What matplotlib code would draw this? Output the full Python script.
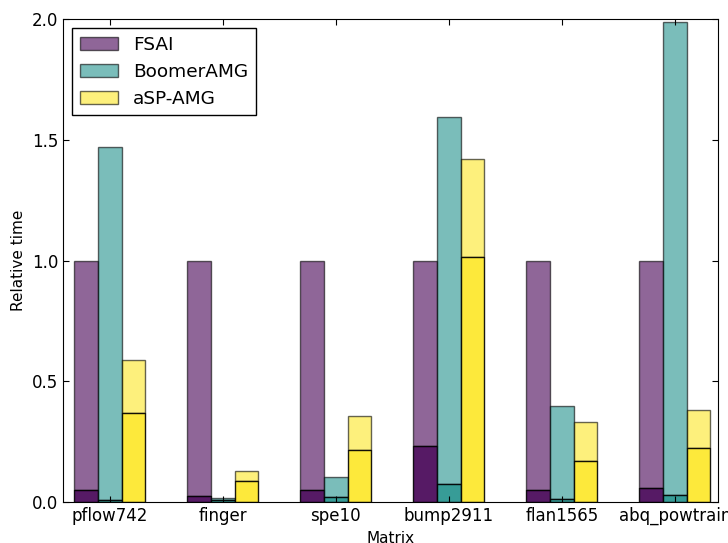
import matplotlib
matplotlib.use("Agg")
import matplotlib.pyplot as plt
import numpy as np

matrices = ["pflow742", "finger", "spe10", "bump2911", "flan1565", "abq_powtrain"]
methods = ["FSAI", "BoomerAMG", "aSP-AMG"]
# total relative time per method
fsai_total = [1.0, 1.0, 1.0, 1.0, 1.0, 1.0]
boomer_total = [1.47, 0.015, 0.105, 1.595, 0.398, 1.988]
asp_total = [0.587, 0.13, 0.355, 1.42, 0.331, 0.381]
# lower (darker) part of each bar
fsai_low = [0.05, 0.025, 0.05, 0.232, 0.05, 0.06]
boomer_low = [0.01, 0.008, 0.02, 0.075, 0.012, 0.03]
asp_low = [0.368, 0.087, 0.215, 1.015, 0.17, 0.224]

totals = [fsai_total, boomer_total, asp_total]
lows = [fsai_low, boomer_low, asp_low]
colors = ["#440154", "#21918c", "#fde725"]

plt.rcParams.update({
    "font.family": "DejaVu Sans",
    "xtick.direction": "in", "ytick.direction": "in",
    "xtick.top": True, "ytick.right": True,
    "xtick.major.size": 4, "ytick.major.size": 4,
})

fig = plt.figure(figsize=(7.28, 5.43), dpi=100)
ax = fig.add_axes([0.0865, 0.0755, 0.8995, 0.8895])

x = np.arange(len(matrices))
w = 0.21
for i, m in enumerate(methods):
    pos = x + (i - 1) * w
    low = np.array(lows[i])
    upper = np.array(totals[i]) - low
    ax.bar(pos, upper, bottom=low, width=w, color=colors[i], alpha=0.6,
           edgecolor="black", linewidth=1.0, label=m)
    ax.bar(pos, low, width=w, color=colors[i], alpha=0.9,
           edgecolor="black", linewidth=1.0)

ax.set_xticks(x)
ax.set_xticklabels(matrices, fontsize=12)
ax.set_xlim(-0.415, 5.38)
ax.set_ylim(0, 2.0)
ax.set_yticks([0.0, 0.5, 1.0, 1.5, 2.0])
ax.set_yticklabels(["0.0", "0.5", "1.0", "1.5", "2.0"], fontsize=12)
ax.set_xlabel("Matrix", fontsize=11)
ax.set_ylabel("Relative time", fontsize=11)
leg = ax.legend(loc="upper left", fontsize=13.3, fancybox=False,
                edgecolor="black", framealpha=1, handlelength=2.1,
                borderaxespad=0.5)
leg.get_frame().set_linewidth(1.0)

fig.savefig("out.png", dpi=100, facecolor="white")
